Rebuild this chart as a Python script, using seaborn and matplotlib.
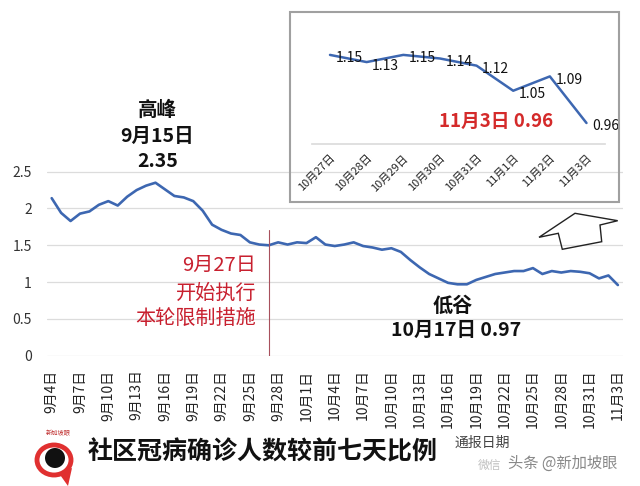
import matplotlib
matplotlib.use("Agg")
import matplotlib.pyplot as plt
import numpy as np
import pandas as pd
import seaborn as sns
from matplotlib.patches import Rectangle, Polygon, Ellipse

# ---------------- data ----------------
sep_days = [f"9月{d}日" for d in range(4, 31)]
oct_days = [f"10月{d}日" for d in range(1, 32)]
nov_days = [f"11月{d}日" for d in range(1, 4)]
dates = sep_days + oct_days + nov_days

ratios = [2.14, 1.94, 1.83, 1.93, 1.96, 2.05, 2.10, 2.04, 2.16, 2.25,
          2.31, 2.35, 2.26, 2.17, 2.15, 2.10, 1.97, 1.78, 1.71, 1.66,
          1.64, 1.54, 1.51, 1.50, 1.54, 1.51, 1.54, 1.53, 1.61, 1.51,
          1.49, 1.51, 1.54, 1.49, 1.47, 1.44, 1.46, 1.41, 1.30, 1.20,
          1.11, 1.05, 0.99, 0.97, 0.97, 1.03, 1.07, 1.11, 1.13, 1.15,
          1.15, 1.19, 1.11, 1.15, 1.13, 1.15, 1.14, 1.12, 1.05, 1.09,
          0.96]

y_ticks = [0, 0.5, 1, 1.5, 2, 2.5]
y_ticklabels = ["0", "0.5", "1", "1.5", "2", "2.5"]

inset_dates = ["10月27日", "10月28日", "10月29日", "10月30日",
               "10月31日", "11月1日", "11月2日", "11月3日"]
inset_values = [1.15, 1.13, 1.15, 1.14, 1.12, 1.05, 1.09, 0.96]

# ---------------- style ----------------
sns.set_theme(style="white")
plt.rcParams['font.family'] = ['Noto Sans CJK SC', 'DejaVu Sans']

BLUE = '#3d67b1'
RED = '#c8202f'

W, H = 640, 486
fig = plt.figure(figsize=(6.4, 4.86), dpi=100)
fig.patch.set_facecolor('white')

def fx(px):
    return px / W

def fy(py):
    return 1 - py / H

# ---------------- main chart ----------------
ax = fig.add_axes([0.0734, 0.2681, 0.8994, 0.3938])
df = pd.DataFrame({'day': np.arange(len(ratios)), 'ratio': ratios})
sns.lineplot(data=df, x='day', y='ratio', ax=ax, color=BLUE, linewidth=1.9)
ax.set_xlim(-0.5, len(ratios) - 0.5)
ax.set_ylim(0, 2.6)
ax.set_yticks(y_ticks)
ax.set_yticklabels(y_ticklabels, fontsize=10, color='#333333')
tick_idx = list(range(0, len(dates), 3))
ax.set_xticks(tick_idx)
ax.set_xticklabels([dates[i] for i in tick_idx], rotation=90, fontsize=10,
                   color='#222222')
ax.grid(axis='y', color='#dcdcdc', linewidth=0.9)
ax.grid(axis='x', visible=False)
for s in ax.spines.values():
    s.set_visible(False)
ax.tick_params(axis='both', length=0)
ax.tick_params(axis='y', pad=11)
ax.tick_params(axis='x', pad=10)
ax.set_xlabel('')
ax.set_ylabel('')

# red vertical marker (9/27)
ax.plot([23, 23], [0, 1.71], color='#a8505c', linewidth=0.8)

# annotations
ax.text(11.2, 3.34, "高峰", ha='center', va='center', fontsize=14,
        fontweight='bold', color='#111111')
ax.text(11.2, 2.98, "9月15日", ha='center', va='center', fontsize=14,
        fontweight='bold', color='#111111')
ax.text(11.2, 2.64, "2.35", ha='center', va='center', fontsize=14,
        fontweight='bold', color='#111111')

ax.text(21.7, 1.232, "9月27日", ha='right', va='center', fontsize=14.5,
        color=RED)
ax.text(21.7, 0.848, "开始执行", ha='right', va='center', fontsize=14.5,
        color=RED)
ax.text(21.7, 0.508, "本轮限制措施", ha='right', va='center', fontsize=14.5,
        color=RED)

ax.text(42.5, 0.69, "低谷", ha='center', va='center', fontsize=14.5,
        fontweight='bold', color='#111111')
ax.text(42.8, 0.35, "10月17日 0.97", ha='center', va='center', fontsize=14,
        fontweight='bold', color='#111111')

# ---------------- inset ----------------
fig.patches.append(Rectangle((fx(290), fy(202)), fx(329), 190 / H,
                             transform=fig.transFigure, fill=False,
                             edgecolor='#a0a0a0', linewidth=1.5, zorder=0))

ax2 = fig.add_axes([0.487, 0.7027, 0.458, 0.2212])
df2 = pd.DataFrame({'i': np.arange(len(inset_values)), 'v': inset_values})
sns.lineplot(data=df2, x='i', y='v', ax=ax2, color=BLUE, linewidth=1.8)
ax2.set_xlim(-0.5, len(inset_values) - 0.5)
ax2.set_ylim(0.9, 1.2)
ax2.set_yticks([])
ax2.set_xticks(range(len(inset_dates)))
ax2.set_xticklabels(inset_dates, rotation=45, ha='right',
                    rotation_mode='anchor', fontsize=8, color='#222222')
ax2.tick_params(axis='x', length=0, pad=6)
for k, s in ax2.spines.items():
    s.set_visible(k == 'bottom')
ax2.spines['bottom'].set_color('#dcdcdc')
ax2.set_xlabel('')
ax2.set_ylabel('')
ax2.patch.set_alpha(0)
for i, v in enumerate(inset_values):
    ax2.annotate(f"{v:.2f}", (i, v), xytext=(4, -2.5),
                 textcoords='offset points', ha='left', va='center',
                 fontsize=10, color='#111111')
ax2.text(4.53, 0.964, "11月3日 0.96", ha='center', va='center',
         fontsize=13.5, fontweight='bold', color='#d42a2a')

# hollow arrow decoration
arrow_px = [(539, 237.3), (575, 213.3), (617.7, 220.7), (600, 225),
            (601.7, 241.7), (562.3, 249.3), (558.3, 233.3)]
fig.patches.append(Polygon([(fx(x), fy(y)) for x, y in arrow_px],
                           closed=True, transform=fig.transFigure,
                           fill=False, edgecolor='#222222', linewidth=1.0))

# ---------------- bottom title / logo ----------------
fig.patches.append(Polygon([(fx(58), fy(472)), (fx(72), fy(468)),
                            (fx(68), fy(486))], closed=True,
                           transform=fig.transFigure, facecolor='#e03030',
                           edgecolor='none'))
fig.patches.append(Ellipse((fx(54), fy(460)), 34 / W, 30 / H,
                           transform=fig.transFigure, facecolor='white',
                           edgecolor='#e03030', linewidth=3.5))
fig.patches.append(Ellipse((fx(55), fy(458)), 20 / W, 20 / H,
                           transform=fig.transFigure, facecolor='#111111',
                           edgecolor='none'))
fig.text(fx(58), fy(433), "新加坡眼", ha='center', va='center', fontsize=4.5,
         color='#c03030')

fig.text(fx(88), fy(452), "社区冠病确诊人数较前七天比例", ha='left',
         va='center', fontsize=18, fontweight='bold', color='#111111')
fig.text(fx(455), fy(443), "通报日期", ha='left', va='center', fontsize=10,
         color='#444444')
fig.text(fx(478), fy(465), "微信", ha='left', va='center', fontsize=8.5,
         color='#c0c0c0')
fig.text(fx(508), fy(463), "头条 @新加坡眼", ha='left', va='center',
         fontsize=11, color='#888888')

fig.savefig("out.png", dpi=100, facecolor='white')
